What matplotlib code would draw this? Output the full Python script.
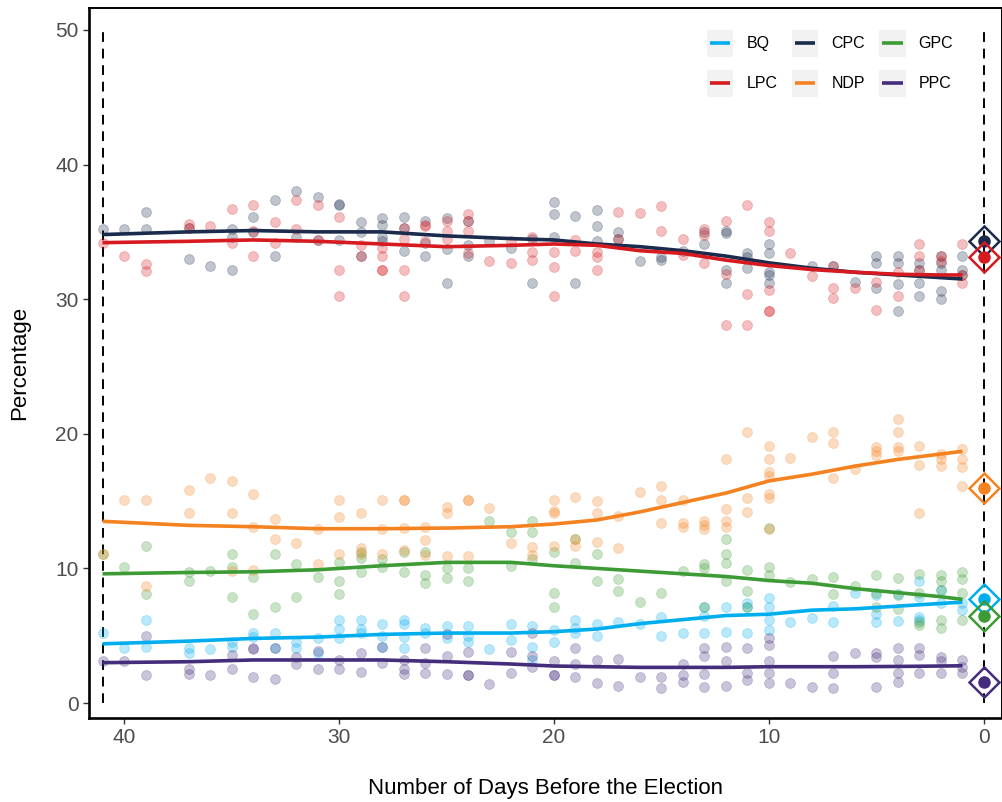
import numpy as np
import matplotlib
matplotlib.use("Agg")
import matplotlib.pyplot as plt
from matplotlib.patches import Rectangle
from matplotlib.lines import Line2D

plt.rcParams['font.family'] = ['Liberation Sans', 'DejaVu Sans']

parties = ["BQ", "CPC", "GPC", "LPC", "NDP", "PPC"]
colors = {"BQ": "#00AEEF", "CPC": "#1A2B4C", "GPC": "#3D9B35",
          "LPC": "#D71920", "NDP": "#F58220", "PPC": "#442D7B"}

# poll results: days before election and percentage
cpc_days = [41, 40, 39, 39, 37, 37, 36, 35, 35, 35, 34, 34, 33, 33, 32, 32, 31, 31,
            30, 30, 30, 29, 29, 29, 28, 28, 28, 28, 27, 27, 27, 26, 26, 26, 25, 25, 25,
            24, 24, 24, 23, 22, 21, 21, 20, 20, 20, 19, 19, 18, 18, 18, 17, 17, 16, 15, 15,
            14, 13, 13, 12, 12, 12, 12, 11, 11, 11, 10, 10, 10, 10, 10, 8, 7, 6,
            5, 5, 5, 4, 4, 4, 4, 3, 3, 3, 3, 2, 2, 2, 2, 2, 1, 1, 1]
cpc_polls = [35.2, 35.2, 36.5, 35.2, 33.0, 35.3, 32.5, 32.2, 35.2, 34.6, 36.1, 35.0, 37.4, 33.2,
             38.0, 34.6, 37.6, 34.4, 37.1, 37.0, 34.4, 35.7, 35.0, 33.2, 36.0, 35.5, 34.6, 34.3,
             36.1, 35.3, 33.6, 35.8, 34.2, 33.2, 36.0, 33.7, 31.2, 35.8, 34.0, 33.2, 34.3, 33.8,
             34.5, 31.2, 37.2, 36.3, 34.6, 36.2, 31.2, 36.6, 35.4, 34.3, 35.0, 34.5, 32.8, 33.1,
             32.9, 33.6, 35.0, 34.1, 35.1, 34.9, 32.2, 31.2, 33.4, 33.1, 32.3, 34.1, 33.4, 32.0,
             31.8, 31.2, 32.5, 32.5, 31.3, 33.2, 32.7, 30.8, 33.2, 32.7, 31.1, 29.1, 32.7, 32.2,
             31.2, 30.2, 33.2, 32.7, 32.2, 30.6, 30.0, 33.2, 32.2, 31.8]

lpc_days = [41, 40, 39, 39, 37, 37, 36, 35, 35, 34, 34, 34, 33, 33, 32, 32, 31, 31,
            30, 30, 30, 29, 29, 28, 28, 28, 28, 27, 27, 27, 27, 26, 26, 26, 25, 25, 25,
            24, 24, 24, 24, 23, 22, 22, 21, 21, 21, 20, 20, 20, 19, 19, 18, 18, 18, 17, 17,
            16, 15, 15, 14, 14, 13, 13, 13, 12, 12, 12, 11, 11, 11, 10, 10, 10, 10, 10, 9, 8,
            7, 7, 7, 6, 5, 5, 4, 4, 3, 3, 3, 2, 2, 1, 1, 1]
lpc_polls = [34.2, 33.2, 32.6, 32.1, 35.6, 35.3, 35.4, 36.7, 34.2, 37.0, 35.1, 33.2, 35.7, 34.2,
             37.4, 35.2, 37.0, 34.4, 36.1, 32.2, 30.2, 34.0, 33.2, 33.8, 33.2, 32.2, 32.2,
             35.3, 34.5, 32.2, 30.2, 35.5, 35.4, 34.3, 35.8, 35.1, 34.5, 36.3, 35.8, 35.1, 33.4,
             32.8, 34.3, 32.7, 34.6, 33.5, 32.9, 33.5, 32.4, 30.2, 34.4, 33.6, 33.5, 33.1, 32.2,
             36.5, 34.5, 36.4, 36.9, 35.1, 34.5, 33.3, 35.2, 34.8, 32.7, 35.8, 31.9, 28.1, 37.0,
             30.4, 28.1, 35.7, 35.1, 30.7, 29.1, 29.1, 33.4, 31.7, 32.5, 30.8, 30.1, 30.8, 31.3,
             29.2, 32.0, 30.2, 34.1, 33.2, 32.2, 33.2, 32.8, 34.1, 31.8, 31.2]

ndp_days = [41, 40, 39, 39, 37, 37, 36, 35, 35, 35, 34, 34, 34, 33, 33, 32, 31, 31,
            30, 30, 30, 29, 29, 29, 28, 28, 28, 27, 27, 27, 27, 26, 26, 26, 25, 25, 25,
            24, 24, 24, 23, 22, 21, 21, 20, 20, 20, 20, 19, 19, 19, 18, 18, 18, 17, 17, 16,
            15, 15, 15, 14, 14, 14, 13, 13, 13, 12, 12, 12, 12, 11, 11, 11,
            10, 10, 10, 10, 10, 10, 10, 9, 8, 7, 7, 7, 6, 5, 5, 5, 4, 4, 4, 4,
            3, 3, 3, 2, 2, 2, 1, 1, 1, 1]
ndp_polls = [11.1, 15.1, 15.1, 8.7, 15.8, 14.1, 16.7, 16.5, 14.1, 9.8, 15.5, 13.1, 9.9, 13.7,
             12.2, 11.9, 12.9, 10.3, 15.1, 13.8, 11.1, 14.1, 11.5, 11.1, 15.1, 12.9, 11.1,
             15.1, 15.1, 13.0, 11.4, 13.1, 12.1, 11.0, 14.6, 14.1, 10.9, 15.1, 15.1, 10.9,
             14.5, 11.9, 11.6, 11.0, 15.1, 14.3, 14.1, 11.7, 15.3, 12.2, 11.7, 15.0, 14.1, 12.0,
             13.9, 11.5, 15.7, 16.1, 15.1, 13.4, 15.1, 13.4, 13.1, 13.5, 13.2, 12.9, 18.1, 14.4,
             13.5, 13.1, 20.1, 15.2, 14.2, 19.1, 18.1, 17.2, 16.9, 15.5, 15.2, 12.9, 18.2, 19.8,
             20.1, 19.3, 16.7, 17.4, 19.0, 18.7, 18.4, 21.1, 20.1, 19.0, 18.7, 19.1, 17.7, 14.1,
             18.5, 18.1, 17.6, 18.9, 18.1, 17.5, 16.1]

gpc_days = [41, 40, 39, 39, 37, 37, 36, 35, 35, 35, 34, 34, 33, 33, 32, 32, 31,
            30, 30, 30, 29, 29, 29, 28, 28, 27, 27, 26, 26, 26, 25, 25, 24, 24, 23, 22, 22,
            21, 21, 21, 20, 20, 20, 19, 19, 18, 18, 17, 17, 16, 15, 14, 13, 13, 13,
            12, 12, 12, 12, 11, 11, 11, 10, 10, 10, 9, 8, 7, 7, 6, 5, 5, 5, 4, 4, 4,
            3, 3, 3, 3, 2, 2, 2, 2, 2, 1, 1, 1, 1]
gpc_polls = [11.1, 10.1, 11.7, 8.1, 9.7, 9.1, 9.8, 11.1, 10.1, 7.9, 9.4, 6.6, 11.1, 7.1, 10.3,
             7.9, 9.4, 10.5, 9.1, 8.1, 11.2, 10.8, 9.7, 10.7, 10.1, 11.2, 9.7, 11.2, 9.5, 8.9,
             10.0, 9.3, 10.0, 9.1, 13.5, 12.7, 10.2, 13.5, 12.7, 10.7, 11.2, 8.2, 7.1, 12.2,
             10.4, 11.1, 9.1, 9.2, 8.3, 7.5, 8.2, 9.8, 10.3, 10.0, 7.1, 12.2, 11.1, 10.4, 9.1,
             9.9, 8.3, 7.1, 13.0, 10.1, 9.5, 9.0, 9.2, 9.4, 8.1, 8.7, 9.5, 8.2, 7.1, 9.3, 8.0,
             7.0, 9.6, 8.2, 6.0, 5.8, 9.5, 9.1, 8.4, 6.2, 5.6, 9.7, 9.2, 8.2, 6.2]

bq_days = [41, 40, 39, 39, 37, 37, 36, 35, 35, 34, 34, 33, 33, 32, 32, 31, 31,
           30, 30, 30, 29, 29, 29, 28, 28, 28, 27, 27, 27, 27, 26, 26, 25, 25, 24, 24, 24,
           23, 22, 22, 21, 21, 21, 20, 20, 19, 19, 19, 18, 18, 17, 16, 15, 15, 14,
           13, 13, 13, 12, 12, 11, 11, 11, 10, 10, 10, 10, 9, 8, 7, 7, 6, 5, 5, 5,
           4, 4, 3, 3, 3, 3, 2, 2, 1, 1]
bq_polls = [5.2, 4.1, 6.2, 4.2, 4.1, 3.7, 4.0, 4.5, 4.2, 5.2, 4.9, 5.2, 4.1, 4.5, 4.1, 4.8, 3.7,
            6.2, 5.5, 4.8, 6.2, 5.5, 5.2, 5.9, 5.0, 4.2, 6.2, 5.9, 4.9, 4.1, 5.6, 5.2, 5.7, 4.8,
            5.7, 5.0, 4.5, 4.0, 5.9, 4.7, 5.7, 4.2, 3.2, 5.4, 4.5, 6.2, 5.6, 5.2, 5.9, 5.0, 6.0,
            5.9, 6.4, 5.0, 5.2, 7.1, 6.5, 5.2, 7.1, 5.3, 7.4, 7.1, 5.2, 7.8, 7.1, 6.2, 5.4, 6.0,
            6.3, 7.2, 6.0, 8.2, 8.0, 6.6, 6.0, 8.1, 6.1, 9.1, 7.9, 6.4, 6.2, 8.4, 7.4, 7.4, 6.9]

ppc_days = [41, 40, 39, 39, 37, 37, 36, 35, 35, 34, 34, 34, 33, 33, 32, 32, 31, 31,
            30, 30, 29, 29, 28, 28, 27, 27, 27, 26, 26, 26, 25, 25, 25, 24, 24, 24, 23,
            22, 22, 21, 21, 21, 20, 20, 20, 19, 19, 19, 18, 18, 17, 17, 16, 15, 15,
            14, 14, 14, 13, 13, 13, 13, 12, 12, 12, 11, 11, 11, 10, 10, 10, 10, 10,
            9, 8, 7, 7, 7, 6, 5, 5, 5, 4, 4, 4, 4, 3, 3, 3, 2, 2, 2, 1, 1, 1]
ppc_polls = [3.1, 3.15, 5.0, 2.1, 2.5, 2.15, 2.1, 3.6, 2.5, 4.1, 4.0, 1.9, 4.1, 1.8, 3.4, 2.9,
             3.9, 2.5, 3.2, 2.5, 3.7, 2.3, 4.2, 3.0, 3.2, 2.5, 2.15, 4.1, 3.0, 2.2, 5.1, 3.5,
             2.15, 3.8, 2.1, 2.1, 1.4, 3.8, 2.2, 5.2, 3.5, 2.7, 3.1, 2.1, 2.1, 4.1, 2.9, 1.9,
             3.2, 1.5, 3.3, 1.3, 1.9, 1.9, 1.1, 2.9, 2.1, 1.6, 4.1, 3.5, 2.15, 1.2, 4.2, 3.1,
             1.3, 4.1, 2.2, 1.7, 4.8, 4.3, 3.1, 2.2, 1.5, 1.5, 1.2, 3.5, 2.2, 1.1, 3.7, 3.7,
             3.4, 1.2, 4.1, 3.2, 2.2, 1.6, 4.1, 3.6, 2.2, 3.4, 3.1, 2.2, 3.2, 2.7, 2.2]

# smoothed trend
trend_days = [41, 37, 34, 31, 28, 25, 22, 20, 18, 16, 14, 12, 10, 8, 6, 4, 2, 1]
cpc_trend = [34.8, 35.0, 35.1, 35.0, 35.0, 34.7, 34.5, 34.4, 34.1, 33.9, 33.6, 33.2,
             32.7, 32.3, 32.0, 31.8, 31.6, 31.5]
lpc_trend = [34.2, 34.3, 34.4, 34.3, 34.1, 33.9, 34.0, 34.1, 34.0, 33.6, 33.4, 32.9,
             32.5, 32.2, 32.0, 31.85, 31.8, 31.8]
ndp_trend = [13.5, 13.2, 13.1, 12.95, 12.95, 13.0, 13.1, 13.3, 13.6, 14.2, 14.9, 15.6,
             16.5, 17.0, 17.6, 18.1, 18.5, 18.7]
gpc_trend = [9.6, 9.7, 9.75, 9.9, 10.2, 10.45, 10.45, 10.2, 10.0, 9.8, 9.6, 9.4,
             9.1, 8.9, 8.5, 8.2, 7.9, 7.7]
bq_trend = [4.4, 4.6, 4.8, 4.9, 5.1, 5.2, 5.2, 5.3, 5.5, 5.9, 6.2, 6.5,
            6.6, 6.9, 7.0, 7.2, 7.4, 7.5]
ppc_trend = [3.0, 3.07, 3.2, 3.2, 3.2, 3.07, 2.9, 2.75, 2.7, 2.65, 2.65, 2.65,
             2.7, 2.7, 2.7, 2.72, 2.75, 2.77]

# election result
result = {"BQ": 7.7, "CPC": 34.3, "GPC": 6.5, "LPC": 33.1, "NDP": 16.0, "PPC": 1.6}

polls = {"BQ": (bq_days, bq_polls), "CPC": (cpc_days, cpc_polls),
         "GPC": (gpc_days, gpc_polls), "LPC": (lpc_days, lpc_polls),
         "NDP": (ndp_days, ndp_polls), "PPC": (ppc_days, ppc_polls)}
trends = {"BQ": bq_trend, "CPC": cpc_trend, "GPC": gpc_trend,
          "LPC": lpc_trend, "NDP": ndp_trend, "PPC": ppc_trend}

W, H = 1003, 802
fig = plt.figure(figsize=(W / 100, H / 100), dpi=100)
ax_l, ax_r, ax_t, ax_b = 89, 1002, 8, 718
ax = fig.add_axes([ax_l / W, 1 - ax_b / H, (ax_r - ax_l) / W, (ax_b - ax_t) / H])

# dashed reference lines (campaign start / election day)
for d in (41, 0):
    ax.plot([d, d], [0, 50], color="black", lw=1.4, dashes=(5, 3.5), zorder=1)

for p in parties:
    d, v = polls[p]
    ax.scatter(d, v, s=50, color=colors[p], alpha=0.28, linewidths=0.6,
               edgecolors=colors[p], zorder=2)

for p in parties:
    ax.plot(trend_days, trends[p], color=colors[p], lw=2.6, solid_capstyle="butt", zorder=3)

for p in parties:
    ax.plot(0, result[p], marker="D", ms=15.5, mfc="none", mec=colors[p], mew=1.8,
            ls="none", zorder=4)
    ax.plot(0, result[p], marker="o", ms=8, color=colors[p], ls="none", zorder=4)

ax.set_xlim(41.63, -0.84)
ax.set_ylim(-1.11, 51.63)
ax.set_xticks([40, 30, 20, 10, 0])
ax.set_yticks([0, 10, 20, 30, 40, 50])
ax.tick_params(axis="both", labelsize=15, labelcolor="#4D4D4D", color="#333333",
               length=4.5, width=1.0, pad=3)
for s in ax.spines.values():
    s.set_linewidth(1.4)
    s.set_color("black")
ax.spines["left"].set_linewidth(1.9)
ax.spines["bottom"].set_linewidth(1.9)
ax.set_xlabel("Number of Days Before the Election", fontsize=16, labelpad=22)
ax.set_ylabel("Percentage", fontsize=16, labelpad=18)

# legend drawn by hand: grey key boxes, 3 columns x 2 rows
def px(x, y):
    return (x - ax_l) / (ax_r - ax_l), (ax_b - y) / (ax_b - ax_t)

key_x = [706.7, 791.7, 879.0]
row_y = [43.3, 83.3]
key = 26.7
legend_order = [["BQ", "CPC", "GPC"], ["LPC", "NDP", "PPC"]]
for r, row in enumerate(legend_order):
    for c, p in enumerate(row):
        x0, y0 = px(key_x[c], row_y[r] + key / 2)
        x1, y1 = px(key_x[c] + key, row_y[r] - key / 2)
        ax.add_patch(Rectangle((x0, y0), x1 - x0, y1 - y0, transform=ax.transAxes,
                               facecolor="#F2F2F2", edgecolor="none", zorder=5))
        lx0, ly = px(key_x[c] + 3, row_y[r])
        lx1, _ = px(key_x[c] + key - 3, row_y[r])
        ax.add_line(Line2D([lx0, lx1], [ly, ly], transform=ax.transAxes,
                           color=colors[p], lw=2.6, solid_capstyle="butt", zorder=6))
        tx, ty = px(key_x[c] + key + 13, row_y[r])
        ax.text(tx, ty, p, transform=ax.transAxes, fontsize=11.5, va="center",
                ha="left", zorder=6)

fig.savefig("out.png", dpi=100)
